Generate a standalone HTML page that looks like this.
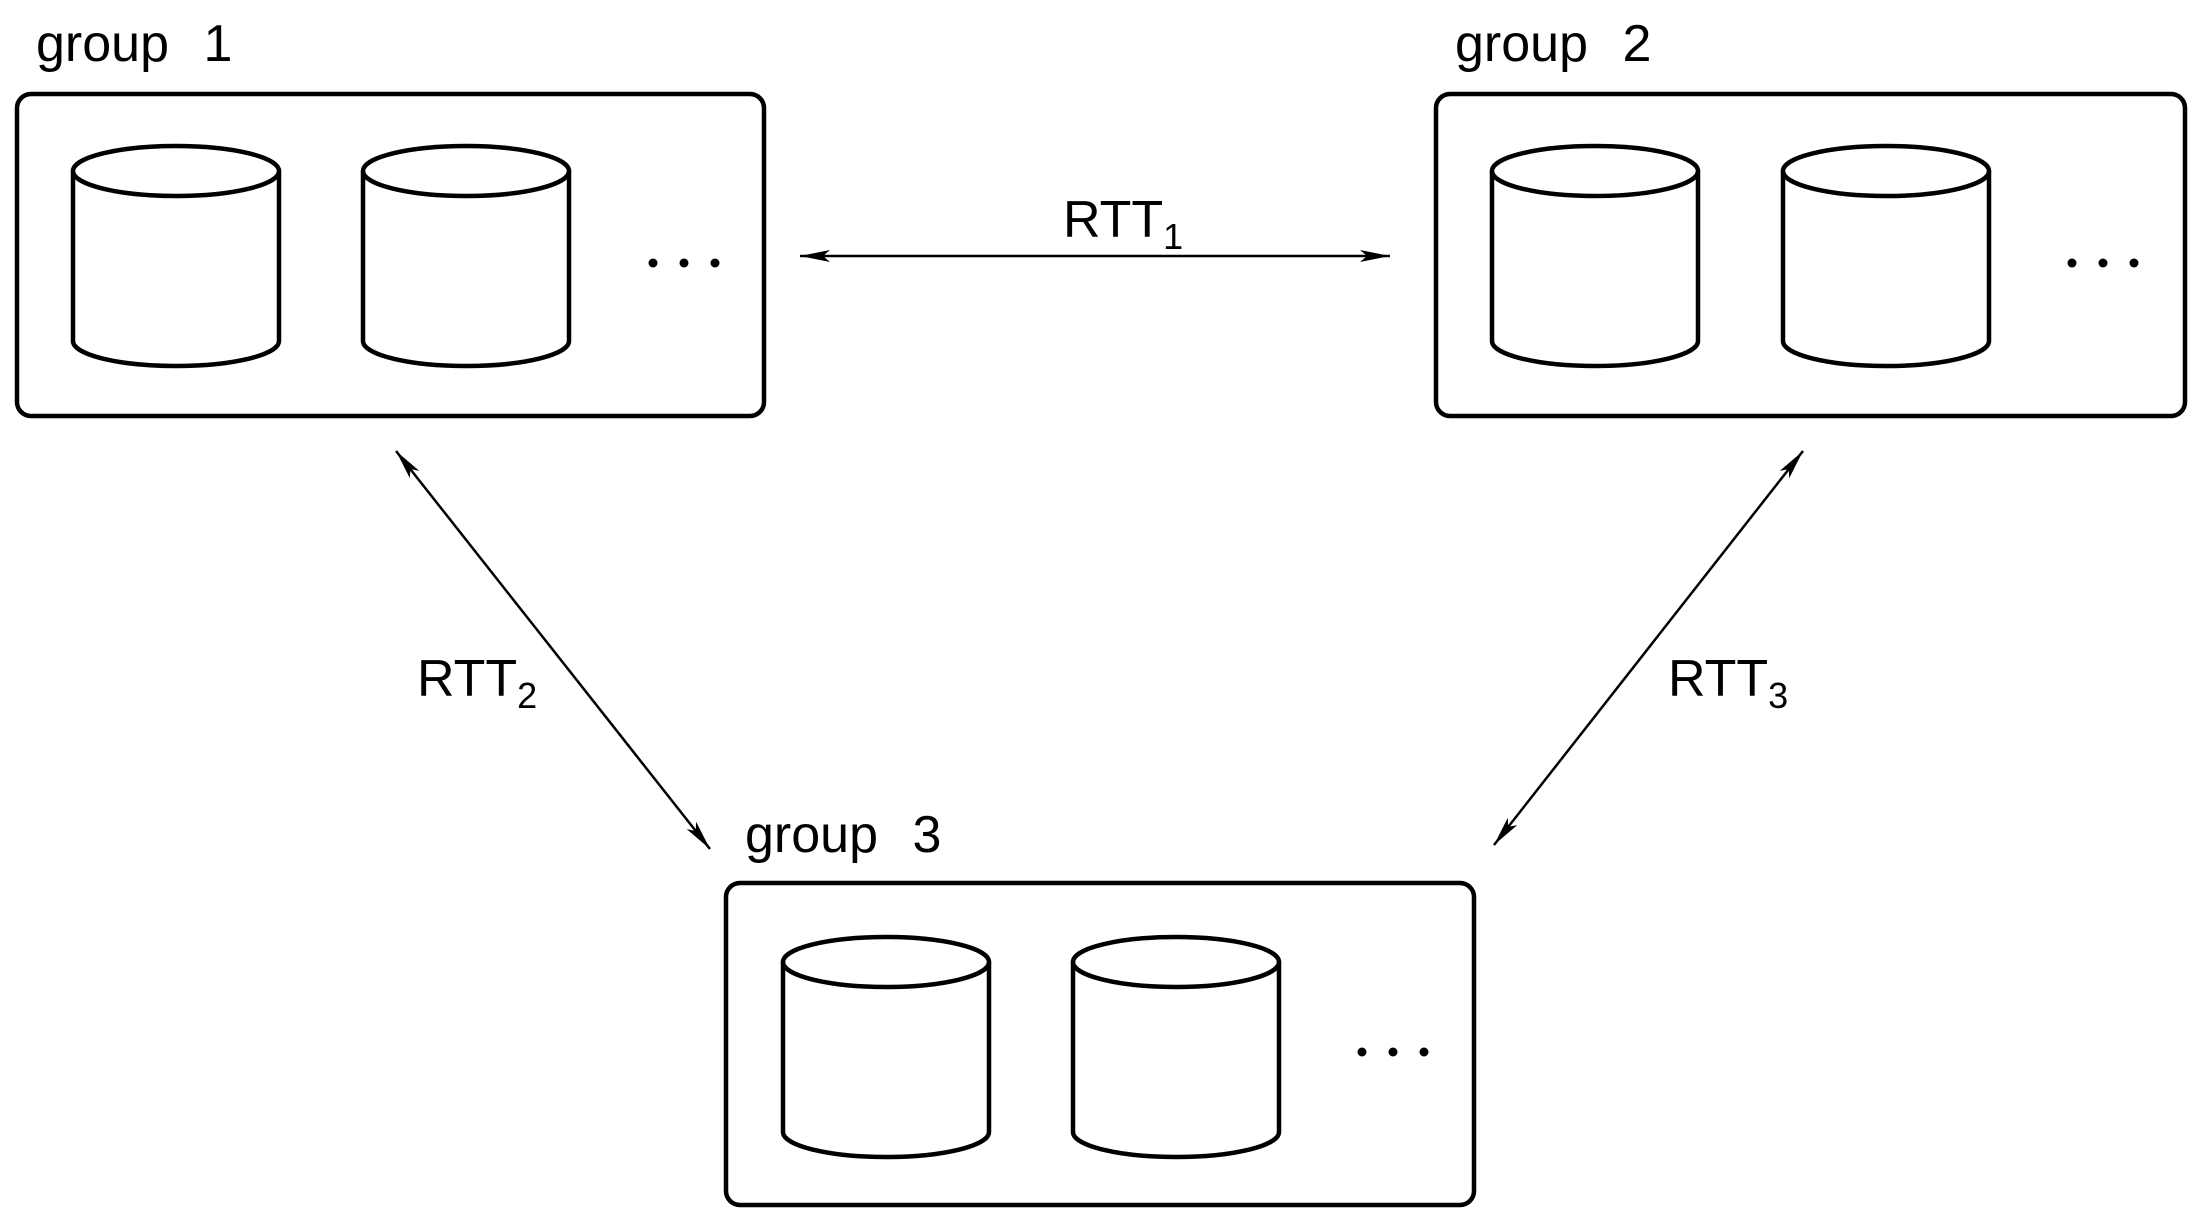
<!DOCTYPE html>
<html><head><meta charset="utf-8"><style>
html,body{margin:0;padding:0;background:#fff;}
svg{display:block;}
text{font-family:"Liberation Sans",sans-serif;fill:#000;}
</style></head><body>
<svg width="2202" height="1226" viewBox="0 0 2202 1226" xmlns="http://www.w3.org/2000/svg">
<defs>
<marker id="ah" markerWidth="32" markerHeight="14" refX="30" refY="7" orient="auto-start-reverse" markerUnits="userSpaceOnUse">
<path d="M0,1 L30,7 L0,13 L7,7 Z" fill="#000"/>
</marker>
<g id="cyl" fill="none" stroke="#000" stroke-width="4.5">
<path d="M0,0 L0,170 A103,25 0 0 0 206,170 L206,0"/>
<ellipse cx="103" cy="0" rx="103" ry="25"/>
</g>
<g id="dots" fill="#000">
<circle cx="0" cy="0" r="4.5"/><circle cx="31" cy="0" r="4.5"/><circle cx="62" cy="0" r="4.5"/>
</g>
</defs>
<g fill="none" stroke="#000" stroke-width="4.5">
<rect x="17" y="94" width="747" height="322" rx="14"/>
<rect x="1436" y="94" width="749" height="322" rx="14"/>
<rect x="726" y="883" width="748" height="322" rx="14"/>
</g>
<use href="#cyl" x="73" y="171"/>
<use href="#cyl" x="363" y="171"/>
<use href="#dots" x="653" y="263"/>
<use href="#cyl" x="1492" y="171"/>
<use href="#cyl" x="1783" y="171"/>
<use href="#dots" x="2072" y="263"/>
<use href="#cyl" x="783" y="962"/>
<use href="#cyl" x="1073" y="962"/>
<use href="#dots" x="1362" y="1052"/>
<g stroke="#000" stroke-width="2.5" marker-start="url(#ah)" marker-end="url(#ah)">
<line x1="800" y1="256" x2="1390" y2="256"/>
<line x1="396" y1="451" x2="710" y2="849"/>
<line x1="1803" y1="451" x2="1494" y2="845"/>
</g>
<g font-size="52">
<text x="36" y="61" word-spacing="20">group 1</text>
<text x="1455" y="61" word-spacing="20">group 2</text>
<text x="745" y="852" word-spacing="20">group 3</text>
<text x="1063" y="237">RTT<tspan font-size="36" dy="12">1</tspan></text>
<text x="417" y="696">RTT<tspan font-size="36" dy="12">2</tspan></text>
<text x="1668" y="696">RTT<tspan font-size="36" dy="12">3</tspan></text>
</g>
</svg>
</body></html>
